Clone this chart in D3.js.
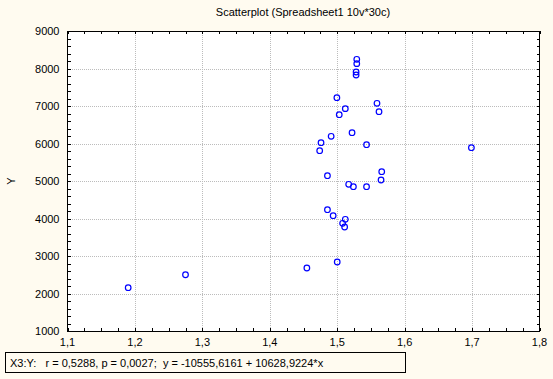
<!DOCTYPE html>
<html><head><meta charset="utf-8">
<script src="https://cdn.jsdelivr.net/npm/d3@7"></script>
<style>
html,body{margin:0;padding:0;background:#fffbf0;}
svg{display:block;}
text{font-family:"Liberation Sans",Arial,sans-serif;font-size:11px;fill:#000;white-space:pre;}
</style></head><body>
<svg id="c" width="553" height="379"></svg>
<script>
const xValues = [1.190,1.275,1.455,1.500,1.522,1.491,1.476,1.474,1.5435,1.566,1.565,1.4855,1.517,1.524,1.5435,1.4855,1.494,1.512,1.508,1.511,1.529,1.529,1.528,1.528,1.4995,1.559,1.562,1.512,1.503,1.699];
const yValues = [2155,2500,2680,2840,6288,6192,6021,5808,5968,5248,5027,5141,4912,4848,4848,4235,4075,3979,3872,3773,8245,8129,7907,7827,7222,7072,6848,6929,6768,5888];
const xTicks = [1.1,1.2,1.3,1.4,1.5,1.6,1.7,1.8];
const yTicks = [1000,2000,3000,4000,5000,6000,7000,8000,9000];
const title = "Scatterplot (Spreadsheet1 10v*30c)";
const yLabel = "Y";
const statsText = "X3:Y:   r = 0,5288, p = 0,0027;  y = -10555,6161 + 10628,9224*x";

const svg = d3.select("#c");
const L = 67.5, R = 539.5, T = 31, B = 331;
const x = d3.scaleLinear().domain([1.1,1.8]).range([L,R]);
const y = d3.scaleLinear().domain([1000,9000]).range([B,T]);
const fmt = v => String(v).replace(".", ",");

svg.append("rect").attr("x",L).attr("y",T).attr("width",R-L).attr("height",B-T).attr("fill","#fff");

// grid
const g = svg.append("g").attr("stroke","#bcbcbc").attr("stroke-width",1).attr("stroke-dasharray","1,1").attr("shape-rendering","crispEdges");
xTicks.slice(1,-1).forEach(v=>g.append("line").attr("x1",Math.round(x(v))+0.5).attr("x2",Math.round(x(v))+0.5).attr("y1",T).attr("y2",B));
yTicks.slice(1,-1).forEach(v=>g.append("line").attr("y1",Math.round(y(v))+0.5).attr("y2",Math.round(y(v))+0.5).attr("x1",L).attr("x2",R));

// axes with inward ticks
const xMinor = d3.range(0,29).map(i=>1.1+i*0.025);
const yMinor = d3.range(0,41).map(i=>1000+i*200);
const axB = d3.axisBottom(x).tickValues(xMinor).tickSize(-3).tickFormat("");
const axT = d3.axisTop(x).tickValues(xMinor).tickSize(-3).tickFormat("");
const axL = d3.axisLeft(y).tickValues(yMinor).tickSize(-3).tickFormat("");
const axR = d3.axisRight(y).tickValues(yMinor).tickSize(-3).tickFormat("");
[[axB,`translate(0,${B})`],[axT,`translate(0,${T})`],[axL,`translate(${L},0)`],[axR,`translate(${R},0)`]].forEach(([a,t])=>{
  const gg = svg.append("g").attr("transform",t).call(a);
  gg.select(".domain").remove();
  gg.selectAll("line").attr("stroke","#000").attr("shape-rendering","crispEdges");
});
svg.append("rect").attr("x",L).attr("y",T).attr("width",R-L).attr("height",B-T).attr("fill","none").attr("stroke","#000").attr("shape-rendering","crispEdges");

// tick labels
svg.append("g").selectAll("text").data(xTicks).join("text")
  .attr("x",d=>x(d)).attr("y",B+15).attr("text-anchor","middle").text(fmt);
svg.append("g").selectAll("text").data(yTicks).join("text")
  .attr("x",L-8).attr("y",d=>y(d)+4).attr("text-anchor","end").text(d=>d);

// points
svg.append("g").selectAll("circle").data(xValues.map((v,i)=>[v,yValues[i]])).join("circle")
  .attr("cx",d=>x(d[0])).attr("cy",d=>y(d[1])).attr("r",2.8)
  .attr("fill","none").attr("stroke","#0000ff").attr("stroke-width",1.2);

// title and labels
svg.append("text").attr("x",303).attr("y",16).attr("text-anchor","middle").text(title);
svg.append("text").attr("transform","translate(15,181) rotate(-90)").attr("text-anchor","middle").text(yLabel);

// stats box
svg.append("rect").attr("x",5.5).attr("y",352.5).attr("width",400).attr("height",20).attr("fill","none").attr("stroke","#000");
svg.append("text").attr("x",10).attr("y",366.5).text(statsText);
</script>
</body></html>
